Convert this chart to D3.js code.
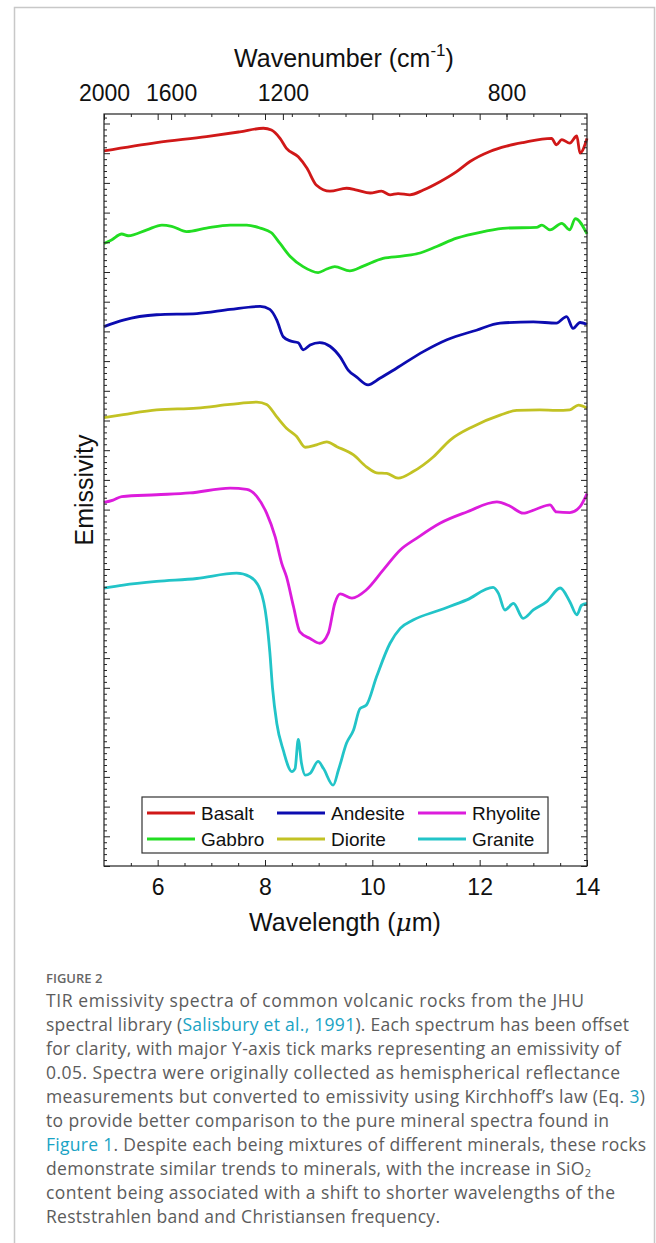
<!DOCTYPE html>
<html>
<head>
<meta charset="utf-8">
<script src="https://cdn.jsdelivr.net/npm/d3@7"></script>
<style>
  html, body { margin: 0; padding: 0; background: #fff; }
  svg { display: block; }
</style>
</head>
<body>
<div class="chart-container"></div>
<script>
// spectres (valeurs d'émissivité décalées)
const basaltX = [5.00, 5.98, 6.91, 7.53, 7.97, 8.12, 8.28, 8.40, 8.62, 8.78, 8.96, 9.21, 9.52, 9.71, 9.96, 10.17, 10.33, 10.48, 10.70, 10.95, 11.26, 11.57, 11.82, 12.19, 12.50, 12.81, 13.34, 13.43, 13.53, 13.68, 13.81, 13.87, 14.00];
const basaltY = [1.204, 1.218, 1.228, 1.236, 1.242, 1.239, 1.225, 1.208, 1.194, 1.175, 1.146, 1.136, 1.141, 1.138, 1.133, 1.136, 1.130, 1.132, 1.130, 1.138, 1.152, 1.169, 1.186, 1.203, 1.212, 1.218, 1.225, 1.214, 1.223, 1.217, 1.229, 1.200, 1.225];

const gabbroX = [5.00, 5.14, 5.33, 5.45, 5.80, 6.08, 6.26, 6.54, 6.91, 7.35, 7.66, 7.91, 8.12, 8.28, 8.47, 8.71, 8.99, 9.15, 9.30, 9.58, 9.83, 10.20, 10.58, 10.89, 11.20, 11.57, 12.07, 12.50, 13.06, 13.16, 13.31, 13.53, 13.68, 13.78, 14.00];
const gabbroY = [1.048, 1.054, 1.064, 1.061, 1.071, 1.079, 1.077, 1.068, 1.074, 1.079, 1.079, 1.074, 1.066, 1.048, 1.026, 1.009, 0.999, 1.005, 1.009, 1.002, 1.010, 1.023, 1.027, 1.032, 1.043, 1.057, 1.068, 1.074, 1.075, 1.079, 1.071, 1.082, 1.071, 1.090, 1.064];

const andesiteX = [5.00, 5.36, 5.98, 6.73, 7.35, 7.91, 8.09, 8.22, 8.34, 8.47, 8.62, 8.71, 8.84, 9.02, 9.21, 9.40, 9.55, 9.71, 9.92, 10.14, 10.45, 10.95, 11.39, 11.94, 12.38, 13.00, 13.43, 13.62, 13.74, 13.87, 14.00];
const andesiteY = [0.908, 0.919, 0.928, 0.930, 0.937, 0.942, 0.937, 0.919, 0.891, 0.884, 0.881, 0.869, 0.877, 0.881, 0.875, 0.857, 0.835, 0.823, 0.810, 0.821, 0.838, 0.866, 0.886, 0.902, 0.914, 0.916, 0.914, 0.925, 0.905, 0.915, 0.912];

const dioriteX = [5.00, 5.36, 5.98, 6.73, 7.35, 7.85, 8.03, 8.22, 8.40, 8.59, 8.75, 8.96, 9.15, 9.34, 9.65, 9.89, 10.08, 10.27, 10.48, 10.76, 11.14, 11.45, 11.88, 12.38, 12.69, 13.12, 13.43, 13.68, 13.84, 14.00];
const dioriteY = [0.755, 0.760, 0.768, 0.771, 0.777, 0.781, 0.777, 0.756, 0.737, 0.723, 0.705, 0.709, 0.714, 0.706, 0.692, 0.672, 0.662, 0.661, 0.653, 0.664, 0.689, 0.717, 0.740, 0.759, 0.767, 0.768, 0.767, 0.768, 0.776, 0.771];

const rhyoliteX = [5.00, 5.17, 5.33, 5.98, 6.60, 7.35, 7.66, 7.85, 8.03, 8.19, 8.31, 8.40, 8.53, 8.65, 8.84, 9.02, 9.18, 9.30, 9.40, 9.62, 9.89, 10.20, 10.52, 10.83, 11.26, 11.76, 12.32, 12.56, 12.81, 13.06, 13.31, 13.43, 13.68, 13.87, 14.00];
const rhyoliteY = [0.612, 0.616, 0.622, 0.625, 0.628, 0.636, 0.634, 0.622, 0.594, 0.554, 0.510, 0.487, 0.437, 0.394, 0.383, 0.375, 0.392, 0.442, 0.458, 0.451, 0.465, 0.498, 0.532, 0.552, 0.577, 0.596, 0.613, 0.606, 0.594, 0.601, 0.608, 0.596, 0.595, 0.605, 0.627];

const graniteX = [5.00, 5.36, 5.98, 6.73, 7.47, 7.72, 7.91, 8.03, 8.09, 8.14, 8.22, 8.34, 8.50, 8.56, 8.62, 8.68, 8.75, 8.84, 8.99, 9.09, 9.27, 9.37, 9.52, 9.65, 9.77, 9.89, 10.08, 10.33, 10.52, 10.76, 11.26, 11.76, 12.25, 12.35, 12.47, 12.63, 12.81, 13.00, 13.25, 13.50, 13.68, 13.81, 13.90, 14.00];
const graniteY = [0.468, 0.473, 0.479, 0.484, 0.493, 0.487, 0.465, 0.414, 0.360, 0.300, 0.240, 0.195, 0.159, 0.164, 0.213, 0.173, 0.153, 0.156, 0.176, 0.164, 0.136, 0.162, 0.207, 0.229, 0.265, 0.271, 0.319, 0.375, 0.400, 0.414, 0.431, 0.448, 0.469, 0.459, 0.431, 0.442, 0.417, 0.431, 0.445, 0.468, 0.445, 0.423, 0.439, 0.442];

const rockNames = ['Basalt', 'Gabbro', 'Andesite', 'Diorite', 'Rhyolite', 'Granite'];
const rockColors = ['#d01818', '#22dd22', '#0c0cb0', '#c2c224', '#dc1cdc', '#22c4c8'];

const wavelengthTicks = [6, 8, 10, 12, 14];
const wavenumberTicks = [2000, 1600, 1200, 800];

const series = [
    { name: 'Basalt', x: basaltX, y: basaltY },
    { name: 'Gabbro', x: gabbroX, y: gabbroY },
    { name: 'Andesite', x: andesiteX, y: andesiteY },
    { name: 'Diorite', x: dioriteX, y: dioriteY },
    { name: 'Rhyolite', x: rhyoliteX, y: rhyoliteY },
    { name: 'Granite', x: graniteX, y: graniteY }
];

const width = 656, height = 1243;
const plot = { left: 104, right: 587, top: 114, bottom: 866 };

const svg = d3.select('.chart-container')
    .append('svg')
    .attr('width', width)
    .attr('height', height)
    .style('font-family', '"Liberation Sans", Arial, sans-serif');

svg.append('rect').attr('width', width).attr('height', height).attr('fill', '#fff');

// cadre gris de la figure
svg.append('rect')
    .attr('x', 14.5).attr('y', 7.5)
    .attr('width', 640).attr('height', 1300)
    .attr('fill', 'none')
    .attr('stroke', '#c8c8c8')
    .attr('stroke-width', 1.5);

// échelles
const xScale = d3.scaleLinear().domain([5, 14]).range([plot.left, plot.right]);
const yScale = d3.scaleLinear().domain([0, 1.266]).range([plot.bottom, plot.top]);

const g = svg.append('g');

// courbes
const line = d3.line()
    .x(d => xScale(d[0]))
    .y(d => yScale(d[1]))
    .curve(d3.curveMonotoneX);

g.selectAll('.spectrum')
    .data(series)
    .enter()
    .append('path')
    .attr('class', 'spectrum')
    .attr('d', s => line(s.x.map((v, i) => [v, s.y[i]])))
    .attr('fill', 'none')
    .attr('stroke', s => rockColors[rockNames.indexOf(s.name)])
    .attr('stroke-width', 2.8)
    .attr('stroke-linejoin', 'round');

// axes
function styleAxis(sel) {
    sel.select('.domain').remove();
    sel.selectAll('.tick line').attr('stroke', '#222').attr('stroke-width', 1);
    sel.selectAll('.tick text')
        .attr('fill', '#111')
        .style('font-family', '"Liberation Sans", Arial, sans-serif');
}

const minorX = d3.range(5.5, 14, 0.5).filter(v => v % 2 !== 0);
const yMajor = d3.range(0, 1.2501, 0.05);
const yMinor = d3.range(0, 1.266, 0.01).filter(v => Math.abs(v / 0.05 - Math.round(v / 0.05)) > 0.01);

// axe du bas
g.append('g')
    .attr('transform', `translate(0,${plot.bottom})`)
    .call(d3.axisBottom(xScale).tickValues(wavelengthTicks).tickSize(-6).tickPadding(13))
    .call(styleAxis)
    .selectAll('.tick text').attr('font-size', 23);

g.append('g')
    .attr('transform', `translate(0,${plot.bottom})`)
    .call(d3.axisBottom(xScale).tickValues(minorX).tickSize(-3).tickFormat(''))
    .call(styleAxis);

// axe du haut (nombre d'onde = 10000 / longueur d'onde)
g.append('g')
    .attr('transform', `translate(0,${plot.top})`)
    .call(d3.axisTop(xScale)
        .tickValues(wavenumberTicks.map(w => 10000 / w))
        .tickFormat(d => Math.round(10000 / d))
        .tickSize(-6).tickPadding(13))
    .call(styleAxis)
    .selectAll('.tick text').attr('font-size', 23);

g.append('g')
    .attr('transform', `translate(0,${plot.top})`)
    .call(d3.axisTop(xScale).tickValues(wavelengthTicks.slice(0, 4)).tickSize(-6).tickFormat(''))
    .call(styleAxis);

g.append('g')
    .attr('transform', `translate(0,${plot.top})`)
    .call(d3.axisTop(xScale).tickValues(minorX).tickSize(-3).tickFormat(''))
    .call(styleAxis);

// axes Y (sans étiquettes)
[[d3.axisLeft, plot.left], [d3.axisRight, plot.right]].forEach(([axisFn, xPos]) => {
    g.append('g')
        .attr('transform', `translate(${xPos},0)`)
        .call(axisFn(yScale).tickValues(yMajor).tickSize(-6).tickFormat(''))
        .call(styleAxis);
    g.append('g')
        .attr('transform', `translate(${xPos},0)`)
        .call(axisFn(yScale).tickValues(yMinor).tickSize(-3).tickFormat(''))
        .call(styleAxis);
});

// cadre du graphique
g.append('rect')
    .attr('x', plot.left).attr('y', plot.top)
    .attr('width', plot.right - plot.left)
    .attr('height', plot.bottom - plot.top)
    .attr('fill', 'none')
    .attr('stroke', '#222')
    .attr('stroke-width', 1.2);

// titres des axes
const topTitle = svg.append('text')
    .attr('x', 344).attr('y', 67)
    .attr('text-anchor', 'middle')
    .attr('font-size', 25)
    .attr('fill', '#111');
topTitle.append('tspan').text('Wavenumber (cm');
topTitle.append('tspan').attr('dy', -11).attr('font-size', 17).text('-1');
topTitle.append('tspan').attr('dy', 11).text(')');

const bottomTitle = svg.append('text')
    .attr('x', 345).attr('y', 931)
    .attr('text-anchor', 'middle')
    .attr('font-size', 25)
    .attr('fill', '#111');
bottomTitle.append('tspan').text('Wavelength (');
bottomTitle.append('tspan').attr('font-style', 'italic').attr('font-family', '"DejaVu Serif", serif').text('μ');
bottomTitle.append('tspan').text('m)');

svg.append('text')
    .attr('transform', `translate(93,${(plot.top + plot.bottom) / 2}) rotate(-90)`)
    .attr('text-anchor', 'middle')
    .attr('font-size', 25)
    .attr('fill', '#111')
    .text('Emissivity');

// légende
const legend = svg.append('g').attr('transform', 'translate(142,797)');
legend.append('rect')
    .attr('width', 406).attr('height', 56)
    .attr('fill', '#fff')
    .attr('stroke', '#333')
    .attr('stroke-width', 1.2);

const legendOrder = ['Basalt', 'Andesite', 'Rhyolite', 'Gabbro', 'Diorite', 'Granite'];
const colX = [5, 135, 276];
const rowY = [16, 42];

const items = legend.selectAll('.item')
    .data(legendOrder)
    .enter()
    .append('g')
    .attr('class', 'item')
    .attr('transform', (d, i) => `translate(${colX[i % 3]},${rowY[Math.floor(i / 3)]})`);

items.append('line')
    .attr('x1', 0).attr('x2', 48)
    .attr('stroke', d => rockColors[rockNames.indexOf(d)])
    .attr('stroke-width', 3);

items.append('text')
    .attr('x', 54).attr('y', 7)
    .attr('font-size', 19)
    .attr('fill', '#111')
    .text(d => d);

// légende de la figure
const caption = svg.append('g')
    .style('font-family', '"Open Sans", "Noto Sans", sans-serif');

caption.append('text')
    .attr('x', 46).attr('y', 983)
    .attr('font-size', 13)
    .attr('font-weight', 600)
    .attr('fill', '#666')
    .text('FIGURE 2');

const captionLines = [
    [['TIR emissivity spectra of common volcanic rocks from the JHU']],
    [['spectral library ('], ['Salisbury et al., 1991', 'link'], ['). Each spectrum has been offset']],
    [['for clarity, with major Y-axis tick marks representing an emissivity of']],
    [['0.05. Spectra were originally collected as hemispherical reflectance']],
    [['measurements but converted to emissivity using Kirchhoff\u2019s law (Eq. '], ['3', 'link'], [')']],
    [['to provide better comparison to the pure mineral spectra found in']],
    [['Figure 1', 'link'], ['. Despite each being mixtures of different minerals, these rocks']],
    [['demonstrate similar trends to minerals, with the increase in SiO'], ['2', 'sub']],
    [['content being associated with a shift to shorter wavelengths of the']],
    [['Reststrahlen band and Christiansen frequency.']]
];
// largeur de chaque ligne dans la figure d'origine
const captionWidths = [538, 583, 575, 574, 599, 563, 600, 545, 569, 394];

captionLines.forEach((parts, i) => {
    const t = caption.append('text')
        .attr('x', 46).attr('y', 1007 + i * 24)
        .attr('font-size', 17.5)
        .attr('fill', '#5c5c5c')
        .attr('textLength', captionWidths[i])
        .attr('lengthAdjust', 'spacing');
    parts.forEach(([txt, kind]) => {
        const span = t.append('tspan').text(txt);
        if (kind === 'link') span.attr('fill', '#1aa3c4');
        if (kind === 'sub') span.attr('font-size', 11).attr('baseline-shift', '-20%');
    });
});
</script>
</body>
</html>
